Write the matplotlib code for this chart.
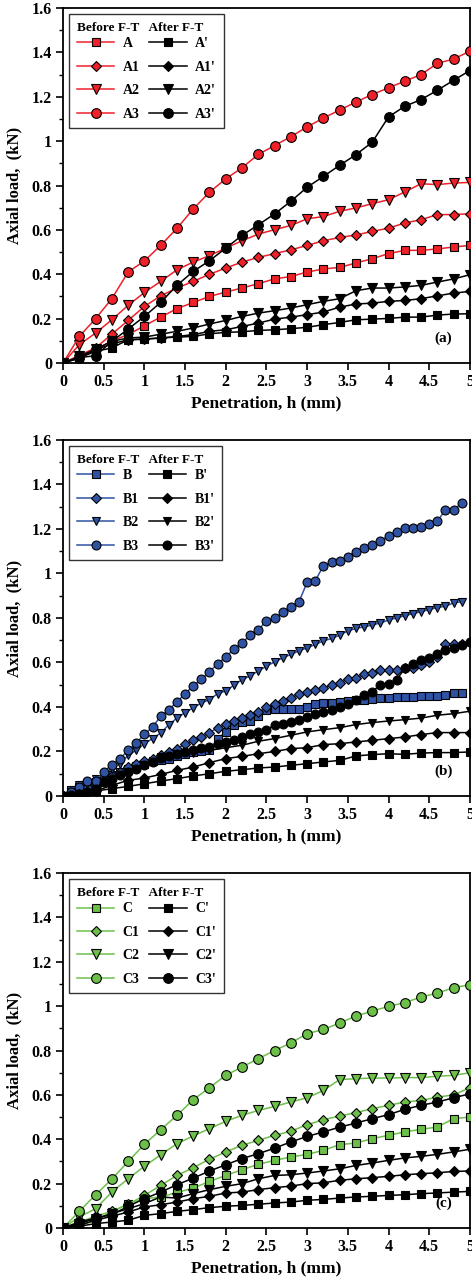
import numpy as np
import matplotlib
matplotlib.use("Agg")
import matplotlib.pyplot as plt
from matplotlib.ticker import MultipleLocator

plt.rcParams["font.family"] = ["Liberation Serif", "DejaVu Serif"]
plt.rcParams["font.weight"] = "bold"

# %% data
x_a = np.round(np.arange(0, 5.01, 0.2), 2)
A = [0, 0.03, 0.06, 0.10, 0.128, 0.168, 0.207, 0.245, 0.273, 0.30, 0.32, 0.338, 0.358,
     0.379, 0.39, 0.41, 0.424, 0.431, 0.451, 0.47, 0.493, 0.508, 0.508, 0.514, 0.523, 0.53]
A1 = [0, 0.035, 0.068, 0.13, 0.192, 0.255, 0.303, 0.338, 0.368, 0.40, 0.428, 0.455, 0.476,
      0.493, 0.51, 0.53, 0.551, 0.566, 0.577, 0.593, 0.608, 0.631, 0.646, 0.669, 0.669, 0.673]
A2 = [0, 0.083, 0.135, 0.195, 0.26, 0.318, 0.368, 0.42, 0.455, 0.484, 0.518, 0.551, 0.581,
      0.601, 0.62, 0.65, 0.66, 0.684, 0.699, 0.718, 0.736, 0.771, 0.808, 0.804, 0.811, 0.814]
A3 = [0, 0.12, 0.20, 0.29, 0.41, 0.46, 0.53, 0.607, 0.694, 0.77, 0.83, 0.88, 0.94,
      0.98, 1.02, 1.064, 1.104, 1.14, 1.176, 1.21, 1.24, 1.27, 1.30, 1.35, 1.37, 1.405]
A_p = [0, 0.023, 0.053, 0.068, 0.105, 0.108, 0.113, 0.117, 0.12, 0.132, 0.138, 0.141, 0.147,
       0.15, 0.155, 0.161, 0.173, 0.183, 0.195, 0.198, 0.201, 0.207, 0.207, 0.216, 0.221, 0.222]
A1_p = [0, 0.023, 0.06, 0.086, 0.105, 0.108, 0.113, 0.12, 0.128, 0.143, 0.15, 0.165, 0.18,
        0.198, 0.207, 0.218, 0.23, 0.252, 0.266, 0.27, 0.278, 0.282, 0.29, 0.303, 0.315, 0.323]
A2_p = [0, 0.03, 0.063, 0.098, 0.113, 0.117, 0.13, 0.143, 0.158, 0.176, 0.192, 0.21, 0.225,
        0.236, 0.248, 0.263, 0.278, 0.29, 0.326, 0.338, 0.338, 0.343, 0.35, 0.365, 0.379, 0.398]
A3_p = [0, 0.025, 0.033, 0.098, 0.153, 0.21, 0.273, 0.35, 0.413, 0.461, 0.518, 0.575, 0.623,
        0.672, 0.729, 0.792, 0.841, 0.891, 0.939, 0.995, 1.109, 1.157, 1.187, 1.229, 1.274, 1.318]

x_b = np.round(np.arange(0, 4.91, 0.1), 2)
x_b3p = np.round(np.arange(0, 5.01, 0.1), 2)
x_bp = np.round(np.arange(0, 5.01, 0.2), 2)
B = [0, 0.028, 0.04, 0.048, 0.063, 0.078, 0.093, 0.108, 0.123, 0.135, 0.145, 0.156, 0.163,
     0.168, 0.178, 0.19, 0.198, 0.202, 0.205, 0.258, 0.288, 0.321, 0.333, 0.336, 0.358, 0.388,
     0.393, 0.39, 0.39, 0.39, 0.40, 0.412, 0.42, 0.42, 0.423, 0.427, 0.43, 0.433, 0.438, 0.442,
     0.442, 0.445, 0.447, 0.447, 0.45, 0.45, 0.45, 0.453, 0.463, 0.463]
B1 = [0, 0.013, 0.025, 0.04, 0.055, 0.07, 0.088, 0.108, 0.13, 0.142, 0.157, 0.168, 0.183,
      0.198, 0.213, 0.232, 0.25, 0.265, 0.285, 0.306, 0.322, 0.336, 0.35, 0.363, 0.378, 0.40,
      0.415, 0.427, 0.442, 0.457, 0.468, 0.478, 0.486, 0.498, 0.508, 0.525, 0.531, 0.547, 0.555,
      0.565, 0.565, 0.568, 0.573, 0.577, 0.588, 0.603, 0.625, 0.682, 0.682, 0.685]
B2 = [0, 0.018, 0.048, 0.055, 0.078, 0.10, 0.123, 0.145, 0.183, 0.205, 0.235, 0.258, 0.283,
      0.32, 0.35, 0.375, 0.396, 0.418, 0.433, 0.46, 0.472, 0.498, 0.523, 0.54, 0.562, 0.583,
      0.603, 0.621, 0.636, 0.652, 0.666, 0.681, 0.697, 0.708, 0.723, 0.742, 0.753, 0.76, 0.768,
      0.778, 0.79, 0.801, 0.81, 0.82, 0.828, 0.838, 0.847, 0.853, 0.868, 0.873]
B3 = [0, 0.018, 0.04, 0.067, 0.067, 0.108, 0.141, 0.168, 0.205, 0.238, 0.277, 0.31, 0.358,
      0.388, 0.423, 0.46, 0.495, 0.525, 0.558, 0.595, 0.625, 0.66, 0.688, 0.723, 0.748, 0.786,
      0.798, 0.825, 0.85, 0.873, 0.96, 0.967, 1.035, 1.05, 1.056, 1.075, 1.098, 1.116, 1.128,
      1.146, 1.168, 1.185, 1.203, 1.203, 1.21, 1.222, 1.236, 1.285, 1.285, 1.318]
B_p = [0, 0.008, 0.022, 0.033, 0.043, 0.055, 0.067, 0.078, 0.09, 0.10, 0.111, 0.118, 0.126,
       0.13, 0.138, 0.145, 0.153, 0.16, 0.18, 0.186, 0.19, 0.187, 0.193, 0.195, 0.195, 0.198]
B1_p = [0, 0.008, 0.022, 0.048, 0.07, 0.081, 0.097, 0.115, 0.13, 0.15, 0.168, 0.178, 0.19,
        0.20, 0.213, 0.217, 0.231, 0.235, 0.243, 0.25, 0.258, 0.265, 0.276, 0.285, 0.285, 0.285]
B2_p = [0, 0.01, 0.025, 0.07, 0.108, 0.138, 0.175, 0.19, 0.193, 0.205, 0.217, 0.228, 0.246,
        0.258, 0.273, 0.288, 0.298, 0.307, 0.321, 0.33, 0.337, 0.343, 0.35, 0.363, 0.37, 0.381]
B3_p = [0, 0.003, 0.008, 0.018, 0.033, 0.063, 0.078, 0.093, 0.108, 0.123, 0.138, 0.153, 0.172,
        0.178, 0.187, 0.198, 0.208, 0.216, 0.22, 0.232, 0.243, 0.253, 0.265, 0.28, 0.288, 0.298,
        0.318, 0.322, 0.333, 0.343, 0.355, 0.367, 0.378, 0.388, 0.40, 0.412, 0.43, 0.453, 0.468,
        0.501, 0.505, 0.523, 0.573, 0.592, 0.61, 0.622, 0.636, 0.655, 0.666, 0.678, 0.693]

x_c = np.round(np.arange(0, 5.01, 0.2), 2)
C = [0, 0.012, 0.035, 0.072, 0.11, 0.132, 0.14, 0.16, 0.18, 0.21, 0.237, 0.263, 0.287,
     0.305, 0.32, 0.332, 0.35, 0.376, 0.383, 0.403, 0.418, 0.433, 0.445, 0.455, 0.493, 0.50]
C1 = [0, 0.027, 0.053, 0.075, 0.107, 0.147, 0.192, 0.237, 0.272, 0.31, 0.343, 0.373, 0.395,
      0.418, 0.436, 0.466, 0.488, 0.505, 0.52, 0.538, 0.553, 0.568, 0.575, 0.59, 0.60, 0.632]
C2 = [0, 0.05, 0.087, 0.162, 0.222, 0.278, 0.33, 0.38, 0.415, 0.448, 0.481, 0.508, 0.53,
      0.548, 0.568, 0.587, 0.62, 0.669, 0.673, 0.676, 0.676, 0.678, 0.678, 0.684, 0.688, 0.70]
C3 = [0, 0.075, 0.15, 0.22, 0.30, 0.377, 0.443, 0.508, 0.578, 0.633, 0.688, 0.726, 0.763,
      0.80, 0.834, 0.876, 0.895, 0.924, 0.955, 0.978, 0.999, 1.016, 1.041, 1.059, 1.083, 1.097]
C_p = [0, 0.008, 0.02, 0.027, 0.035, 0.057, 0.065, 0.075, 0.083, 0.092, 0.098, 0.102, 0.107,
       0.113, 0.117, 0.125, 0.129, 0.135, 0.14, 0.143, 0.147, 0.15, 0.155, 0.158, 0.162, 0.165]
C1_p = [0, 0.012, 0.035, 0.053, 0.072, 0.095, 0.105, 0.117, 0.132, 0.143, 0.158, 0.162, 0.173,
        0.182, 0.189, 0.20, 0.204, 0.215, 0.222, 0.227, 0.233, 0.24, 0.245, 0.249, 0.255, 0.257]
C2_p = [0, 0.02, 0.042, 0.065, 0.087, 0.11, 0.14, 0.135, 0.155, 0.173, 0.188, 0.20, 0.222,
        0.237, 0.24, 0.248, 0.257, 0.267, 0.282, 0.293, 0.305, 0.316, 0.323, 0.332, 0.343, 0.355]
C3_p = [0, 0.027, 0.045, 0.06, 0.098, 0.132, 0.162, 0.195, 0.225, 0.257, 0.285, 0.313, 0.335,
        0.36, 0.388, 0.413, 0.433, 0.455, 0.473, 0.493, 0.511, 0.535, 0.553, 0.568, 0.587, 0.605]

MARKERS = ["s", "D", "v", "o"]
MSIZES = [6, 5, 6.5, 7]

panels = [
    ("(a)", "#ee2028", ["A", "A1", "A2", "A3"],
     [(x_a, A), (x_a, A1), (x_a, A2), (x_a, A3)],
     [(x_a, A_p), (x_a, A1_p), (x_a, A2_p), (x_a, A3_p)]),
    ("(b)", "#2f52a3", ["B", "B1", "B2", "B3"],
     [(x_b, B), (x_b, B1), (x_b, B2), (x_b, B3)],
     [(x_bp, B_p), (x_bp, B1_p), (x_bp, B2_p), (x_b3p, B3_p)]),
    ("(c)", "#6cc04a", ["C", "C1", "C2", "C3"],
     [(x_c, C), (x_c, C1), (x_c, C2), (x_c, C3)],
     [(x_c, C_p), (x_c, C1_p), (x_c, C2_p), (x_c, C3_p)]),
]

fig = plt.figure(figsize=(4.72, 12.82), dpi=100)
# axes boxes in figure fraction: (left, bottom, width, height)
boxes = [(0.1335, 0.7168, 0.862, 0.2770),
         (0.1335, 0.3791, 0.862, 0.2777),
         (0.1335, 0.0421, 0.862, 0.2769)]

for box, (tag, col, names, before, after) in zip(boxes, panels):
    ax = fig.add_axes(box)
    ms_b = 5.5 if tag == "(b)" else 6
    h_before, h_after = [], []
    for i in range(4):
        xb, yb = before[i]
        ln, = ax.plot(xb, yb, color=col, lw=1.1, marker=MARKERS[i],
                      ms=MSIZES[i] * ms_b / 6, mfc=col, mec="black", mew=0.8,
                      label=names[i], zorder=3)
        h_before.append(ln)
    for i in range(4):
        xp, yp = after[i]
        ln, = ax.plot(xp, yp, color="black", lw=1.1, marker=MARKERS[i],
                      ms=MSIZES[i] * ms_b / 6, mfc="black", mec="black", mew=0.8,
                      label=names[i] + "'", zorder=3)
        h_after.append(ln)

    ax.set_xlim(0, 5)
    ax.set_ylim(0, 1.6)
    ax.yaxis.set_minor_locator(MultipleLocator(0.1))
    ax.set_xticks(np.arange(0, 5.01, 0.5))
    ax.set_xticklabels(["0", "0.5", "1", "1.5", "2", "2.5", "3", "3.5", "4", "4.5", "5"])
    ax.set_yticks(np.arange(0, 1.61, 0.2))
    ax.set_yticklabels(["0", "0.2", "0.4", "0.6", "0.8", "1", "1.2", "1.4", "1.6"])
    ax.tick_params(which="major", direction="out", length=5, width=1.2,
                   labelsize=11.5, pad=3)
    ax.tick_params(which="minor", direction="out", length=3, width=1)
    for sp in ax.spines.values():
        sp.set_linewidth(1.3)
    for lab in ax.get_xticklabels() + ax.get_yticklabels():
        lab.set_fontweight("bold")

    ax.set_xlabel("Penetration, h (mm)", fontsize=12.5, fontweight="bold", labelpad=4)
    ax.set_ylabel("Axial load,  (kN)", fontsize=12, fontweight="bold", labelpad=7)
    ax.text(0.935, 0.07, tag, transform=ax.transAxes, fontsize=11,
            fontweight="bold", ha="center", va="center")

    leg = ax.legend(h_before + h_after, names + [n + "'" for n in names],
                    ncol=2, loc="upper left", bbox_to_anchor=(0.0, 1.0),
                    title="Before F-T   After F-T", fontsize=10,
                    title_fontproperties={"size": 9.5, "weight": "bold"},
                    frameon=True, fancybox=False, edgecolor="#333333",
                    framealpha=1, handlelength=2.7, handletextpad=0.6,
                    columnspacing=0.7, labelspacing=0.75, borderpad=0.55,
                    borderaxespad=0.45)
    leg.get_frame().set_linewidth(1.0)
    leg._legend_box.align = "left"
    leg._legend_box.sep = 2.5  # header sits close to the first row
    for t in leg.get_texts():
        t.set_fontweight("bold")

fig.savefig("out.png", dpi=100)
